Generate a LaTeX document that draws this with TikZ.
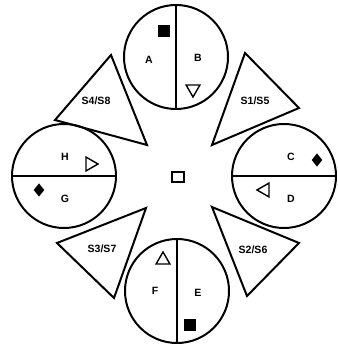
\documentclass[tikz,border=0pt]{standalone}
\usepackage{fontspec}
\setsansfont{Liberation Sans}
\usetikzlibrary{shapes.geometric}

\begin{document}
\begin{tikzpicture}[x=0.03cm,y=-0.03cm,line width=1.7pt,
  font=\sffamily\bfseries\fontsize{9}{10}\selectfont,
  ring/.style={draw,circle,minimum size=3.12cm,inner sep=0pt},
  blk/.style={fill=black,draw=black,line width=0.5pt,minimum size=0.32cm,inner sep=0pt},
  gem/.style={diamond,fill=black,minimum width=0.34cm,minimum height=0.42cm,inner sep=0pt},
  tri/.style={regular polygon,regular polygon sides=3,draw,line width=1.2pt,
              minimum size=0.48cm,inner sep=0pt},
  wedge/.style={draw,line join=miter},
  tag/.style={font=\sffamily\bfseries\fontsize{9}{10}\selectfont}]
\useasboundingbox (0,0) rectangle (337,348);

% the four rings
\node[ring] (top) at (176,57)  {};
\node[ring] (lft) at (64,176)  {};
\node[ring] (rgt) at (284,176) {};
\node[ring] (bot) at (177,291) {};
\draw (top.north) -- (top.south);
\draw (bot.north) -- (bot.south);
\draw (lft.west) -- (lft.east);
\draw (rgt.west) -- (rgt.east);

% sectors
\node (a) at (149,60)  {A};
\node (b) at (198,58)  {B};
\node (c) at (291,157) {C};
\node (d) at (291,199) {D};
\node (e) at (198,293) {E};
\node (f) at (155,291) {F};
\node (g) at (65,199)  {G};
\node (h) at (65,157)  {H};

% markers
\node[blk] (ma) at (164,31)  {};
\node[tri,shape border rotate=180] (mb) at (193,89) {};
\node[gem] (mc) at (317,160) {};
\node[tri,shape border rotate=90] (md) at (265,190) {};
\node[blk] (me) at (190,325) {};
\node[tri] (mf) at (163,260) {};
\node[gem] (mg) at (39,190)  {};
\node[tri,shape border rotate=-90] (mh) at (90,164) {};

% wedges
\draw[wedge] (111,55) -- (55,120) -- (147,145) -- cycle;
\draw[wedge] (245,53) -- (299,108) -- (212,145) -- cycle;
\draw[wedge] (57,243) -- (146,208) -- (114,298) -- cycle;
\draw[wedge] (212,207) -- (299,243) -- (247,296) -- cycle;
\node[tag] (s48) at (96,101)  {S4/S8};
\node[tag] (s15) at (255,101) {S1/S5};
\node[tag] (s37) at (102,249) {S3/S7};
\node[tag] (s26) at (253,250) {S2/S6};

% centre
\node[draw,minimum width=0.38cm,minimum height=0.3cm,inner sep=0pt] (hub) at (178,177) {};
\end{tikzpicture}
\end{document}
